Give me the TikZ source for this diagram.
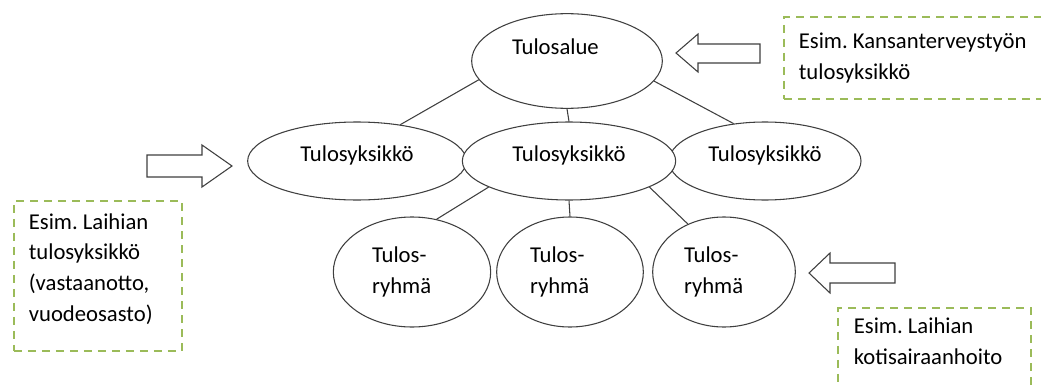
\documentclass[tikz,border=0pt]{standalone}
\usepackage{fontspec}
\setmainfont{Carlito}
\usepackage{xcolor}
\usepackage{tikz}
\usetikzlibrary{shapes.geometric, positioning}
\definecolor{notegreen}{HTML}{9BBB59}
\definecolor{linegray}{HTML}{3F3F3F}
\frenchspacing
\tikzstyle{unit} = [ellipse, draw=linegray, line width=0.8pt, fill=white, inner sep=0pt]
\tikzstyle{note} = [draw=notegreen, line width=1.3pt, dash pattern=on 6pt off 4.5pt, anchor=north west, align=flush left, inner xsep=11.25pt]
\tikzstyle{blockarrow} = [draw=linegray, line width=0.8pt, fill=white, line join=miter]

\begin{document}
\begin{tikzpicture}[
        x=0.75pt, y=-0.75pt,
        font=\fontsize{17}{23}\selectfont,
        link/.style={draw=linegray, line width=0.8pt},
        level/.style={unit, minimum height=58.5pt, text height=0pt, text depth=0pt},
        group/.style={unit, minimum height=82.5pt, text width=60pt, align=flush left}
    ]
        \clip (0,0) rectangle (1041,385);

        % Top level
        \node (alue) [unit, minimum width=143pt, minimum height=71pt, text width=82.5pt, align=flush left, text height=0pt, text depth=10pt] at (567,61) {Tulosalue};

        % Result units, the middle one on top
        \node (yksL) [level, minimum width=164pt] at (357,161) {Tulosyksikkö};
        \node (yksR) [level, minimum width=144pt] at (765,161) {Tulosyksikkö};
        \node (yksM) [level, minimum width=160pt] at (569,161) {Tulosyksikkö};

        % Result groups
        \node (ryhmaL) [group, minimum width=118pt] at (412,272) {Tulos-\\ryhmä};
        \node (ryhmaM) [group, minimum width=110pt] at (570,272) {Tulos-\\ryhmä};
        \node (ryhmaR) [group, minimum width=107pt] at (724,272) {Tulos-\\ryhmä};

        % Connectors
        \draw[link] (alue.192) -- (yksL.40);
        \draw[link] (alue.south) -- (yksM.north);
        \draw[link] (alue.347) -- (yksR.130);
        \draw[link] (yksM.198) -- (ryhmaL.65);
        \draw[link] (yksM.south) -- (ryhmaM.north);
        \draw[link] (yksM.342) -- (ryhmaR.127);

        % Example notes
        \node (noteTop) [note, minimum height=61.5pt, text width=185.25pt] at (783,16) {Esim. Kansanterveystyön\\tulosyksikkö};
        \node (noteLeft) [note, minimum height=112.5pt, text width=103.5pt, text depth=82pt] at (13,200) {Esim. Laihian\\tulosyksikkö\\(vastaanotto,\\vuodeosasto)};
        \node (noteBottom) [note, minimum height=60pt, inner xsep=12pt, text width=120.75pt, text depth=33pt] at (837,307) {Esim. Laihian\\kotisairaanhoito};

        % Block arrows
        \draw[blockarrow] (760,44) -- (698,44) -- (698,34) -- (676,53) -- (698,72) -- (698,63) -- (760,63) -- cycle;
        \draw[blockarrow] (147,155) -- (202,155) -- (202,145) -- (232,166) -- (202,187) -- (202,177) -- (147,177) -- cycle;
        \draw[blockarrow] (895,263) -- (830,263) -- (830,253) -- (809,273) -- (830,293) -- (830,283) -- (895,283) -- cycle;

    \end{tikzpicture}
\end{document}
